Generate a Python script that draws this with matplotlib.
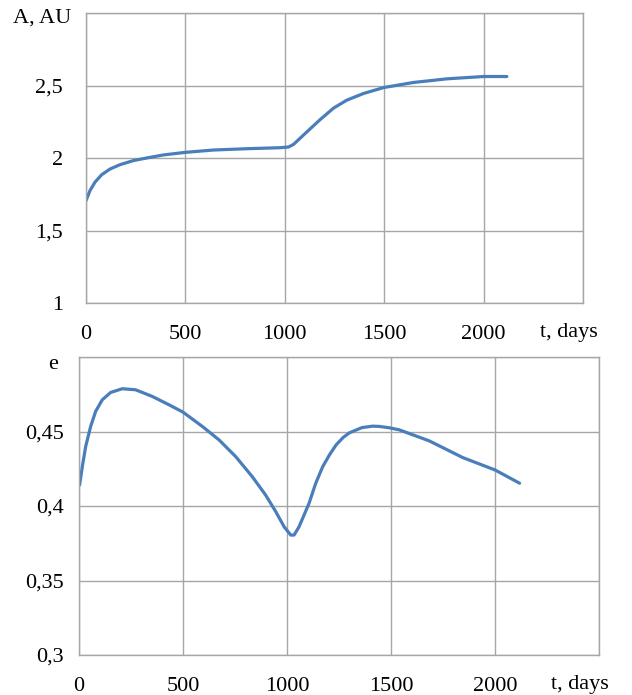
import matplotlib
matplotlib.use("Agg")
import matplotlib.pyplot as plt

# Semi-major axis A (AU) vs time (days)
t_A = [0, 20, 45, 79, 121, 171, 238, 305, 389, 500, 641, 809, 977, 1019, 1044,
       1111, 1178, 1245, 1312, 1396, 1498, 1648, 1816, 2000, 2117]
A = [1.706, 1.775, 1.833, 1.885, 1.924, 1.954, 1.982, 2.000, 2.021, 2.039, 2.055,
     2.064, 2.071, 2.076, 2.094, 2.180, 2.265, 2.344, 2.399, 2.445, 2.486, 2.521,
     2.546, 2.562, 2.562]

# Eccentricity e vs time (days)
t_e = [3, 16, 32, 56, 80, 112, 152, 208, 272, 353, 433, 500, 593, 673, 753, 833,
       897, 946, 986, 1018, 1034, 1058, 1106, 1138, 1172, 1205, 1236, 1270, 1300,
       1360, 1412, 1444, 1492, 1540, 1684, 1845, 2000, 2118]
e = [0.4141, 0.4265, 0.4399, 0.4534, 0.4635, 0.4713, 0.4762, 0.4787, 0.4780, 0.4735,
     0.4679, 0.4630, 0.4534, 0.4444, 0.4332, 0.4197, 0.4074, 0.3962, 0.3861, 0.3805,
     0.3805, 0.3861, 0.4018, 0.4152, 0.4265, 0.4345, 0.4410, 0.4460, 0.4491,
     0.4526, 0.4536, 0.4534, 0.4525, 0.4511, 0.4437, 0.4325, 0.4242, 0.4153]

x_ticks = [0, 500, 1000, 1500, 2000, 2500]
x_labels = ["0", "500", "1000", "1500", "2000", ""]
A_ticks = [1, 1.5, 2, 2.5, 3]
A_labels = ["1", "1,5", "2", "2,5", ""]
e_ticks = [0.3, 0.35, 0.4, 0.45, 0.5]
e_labels = ["0,3", "0,35", "0,4", "0,45", ""]

plt.rcParams['font.family'] = ['Liberation Serif', 'DejaVu Serif']
FS = 16
LINE = '#4a7ebb'
GRID = '#a6a6a6'

W, H = 632, 695
fig = plt.figure(figsize=(W / 100, H / 100), dpi=100)

def px_axes(l, r, t, b):
    return fig.add_axes([l / W, 1 - b / H, (r - l) / W, (b - t) / H])

def style(ax, ypad):
    for s in ax.spines.values():
        s.set_color(GRID)
        s.set_linewidth(1)
    ax.grid(True, color=GRID, linewidth=1)
    ax.set_axisbelow(True)
    ax.tick_params(axis='both', length=0, labelsize=FS)
    ax.tick_params(axis='x', pad=15.5)
    ax.tick_params(axis='y', pad=ypad)

ax1 = px_axes(86, 583, 13, 303)
ax1.plot(t_A, A, color=LINE, linewidth=2.3, solid_capstyle='round',
         solid_joinstyle='round')
ax1.set_xlim(0, 2500)
ax1.set_ylim(1, 3)
ax1.set_xticks(x_ticks, x_labels)
ax1.set_yticks(A_ticks, A_labels)
style(ax1, 16.5)

ax2 = px_axes(79, 599, 357, 655)
ax2.plot(t_e, e, color=LINE, linewidth=2.3, solid_capstyle='round',
         solid_joinstyle='round')
ax2.set_xlim(0, 2500)
ax2.set_ylim(0.3, 0.5)
ax2.set_xticks(x_ticks, x_labels)
ax2.set_yticks(e_ticks, e_labels)
style(ax2, 10.8)

fig.text(71 / W, 1 - 18 / H, "A, AU", ha='right', va='center', fontsize=FS)
fig.text(540 / W, 1 - 332 / H, "t, days", ha='left', va='center', fontsize=FS)
fig.text(58 / W, 1 - 364 / H, "e", ha='right', va='center', fontsize=FS)
fig.text(551 / W, 1 - 684 / H, "t, days", ha='left', va='center', fontsize=FS)

fig.savefig("out.png", dpi=100)
